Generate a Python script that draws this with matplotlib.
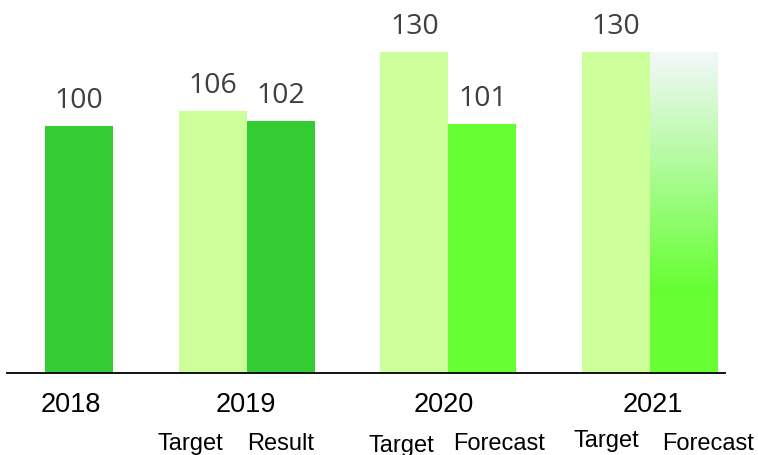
import matplotlib
matplotlib.use("Agg")
import matplotlib.pyplot as plt
import numpy as np
from matplotlib.colors import LinearSegmentedColormap

# ---- data ----
years = ["2018", "2019", "2020", "2021"]
target_values = [None, 106, 130, 130]
right_values = [100, 102, 101, 130]
right_show_label = [True, True, True, False]
sub_labels = [[], ["Target", "Result"], ["Target", "Forecast"], ["Target", "Forecast"]]

# ---- style ----
target_color = "#ccff99"
right_colors = ["#33cc33", "#33cc33", "#66ff33", None]  # None -> gradient
label_color = "#404040"

W, H, DPI = 758, 456, 100
fig = plt.figure(figsize=(W / DPI, H / DPI), dpi=DPI)
ax = fig.add_axes([7 / W, (H - 374) / H, 718 / W, 370.5 / H])

bw = 0.337
x = np.arange(len(years))

rects_target = []
rects_right = []
for i in range(len(years)):
    if target_values[i] is not None:
        r = ax.bar(x[i] - bw / 2, target_values[i], width=bw, color=target_color, zorder=2)[0]
        rects_target.append(r)
    else:
        rects_target.append(None)
    col = right_colors[i]
    if col is None:
        r = ax.bar(x[i] + bw / 2, right_values[i], width=bw, facecolor="none", edgecolor="none", zorder=2)[0]
        cmap = LinearSegmentedColormap.from_list(
            "g", [(0.0, "#66ff33"), (0.26, "#66ff33"), (1.0, "#f4f8fb")])
        grad = np.linspace(0, 1, 256).reshape(-1, 1)
        im = ax.imshow(grad, cmap=cmap, origin="lower", aspect="auto",
                       extent=[r.get_x(), r.get_x() + r.get_width(), 0, r.get_height()],
                       zorder=2, interpolation="bicubic")
        im.set_clip_path(r)
    else:
        r = ax.bar(x[i] + bw / 2, right_values[i], width=bw, color=col, zorder=2)[0]
    rects_right.append(r)

ax.set_xlim(-0.188, 3.371)
ax.set_ylim(0, 150)

vfont = dict(family=["Open Sans", "DejaVu Sans"], size=20.5, color=label_color)
for i in range(len(years)):
    rt = rects_target[i]
    if rt is not None:
        ax.annotate(f"{target_values[i]}", (rt.get_x() + rt.get_width() / 2, rt.get_height()),
                    xytext=(0, 19), textcoords="offset pixels", ha="center", va="baseline", **vfont)
    rr = rects_right[i]
    if right_show_label[i]:
        ax.annotate(f"{right_values[i]}", (rr.get_x() + rr.get_width() / 2, rr.get_height()),
                    xytext=(0, 19), textcoords="offset pixels", ha="center", va="baseline", **vfont)

# year labels (pixel offsets for layout)
year_dx = [-8, -1, -5, 3]
tfont = dict(family=["Liberation Sans", "DejaVu Sans"], color="black")
for i, yr in enumerate(years):
    cx = x[i] + (bw / 2 if target_values[i] is None else 0)
    ax.annotate(yr, (cx, 0), xytext=(year_dx[i], -38), textcoords="offset pixels",
                ha="center", va="baseline", size=19.5, annotation_clip=False, **tfont)

# sub labels
sub_dx = [[], [-22, 0], [-13, 17], [-10, 24]]
sub_dy = [[], [-76, -76], [-78, -76], [-73, -76]]
for i, labs in enumerate(sub_labels):
    for j, lab in enumerate(labs):
        rect = rects_target[i] if j == 0 else rects_right[i]
        cx = rect.get_x() + rect.get_width() / 2
        ax.annotate(lab, (cx, 0), xytext=(sub_dx[i][j], sub_dy[i][j]), textcoords="offset pixels",
                    ha="center", va="baseline", size=17, annotation_clip=False, **tfont)

for s in ["top", "right", "left"]:
    ax.spines[s].set_visible(False)
ax.spines["bottom"].set_linewidth(1.3)
ax.spines["bottom"].set_color("black")
ax.spines["bottom"].set_zorder(3)
ax.set_xticks([])
ax.set_yticks([])
ax.patch.set_alpha(0)

fig.savefig("out.png", dpi=DPI)
